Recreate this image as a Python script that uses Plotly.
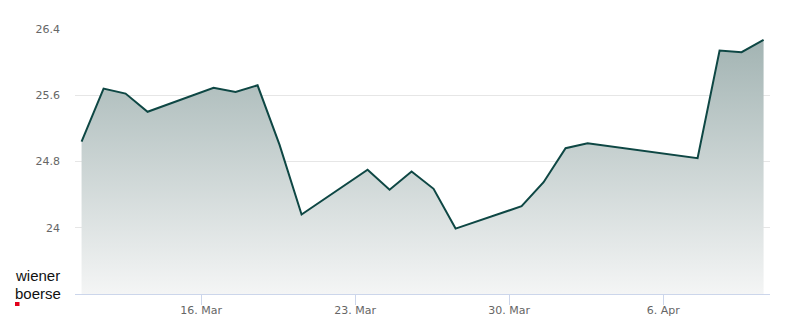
import plotly.graph_objects as go

dates = ["2026-03-10", "2026-03-11", "2026-03-12", "2026-03-13",
         "2026-03-16", "2026-03-17", "2026-03-18", "2026-03-19", "2026-03-20",
         "2026-03-23", "2026-03-24", "2026-03-25", "2026-03-26", "2026-03-27",
         "2026-03-30", "2026-03-31", "2026-04-01", "2026-04-02",
         "2026-04-07", "2026-04-08", "2026-04-09", "2026-04-10"]
prices = [25.04, 25.68, 25.62, 25.40,
          25.69, 25.64, 25.72, 25.00, 24.16,
          24.70, 24.46, 24.68, 24.47, 23.99,
          24.26, 24.55, 24.96, 25.02,
          24.84, 26.14, 26.12, 26.27]
x_tick_vals = ["2026-03-16", "2026-03-23", "2026-03-30", "2026-04-06"]
x_tick_text = ["16. Mar", "23. Mar", "30. Mar", "6. Apr"]
y_tick_vals = [24, 24.8, 25.6, 26.4]
y_tick_text = ["24", "24.8", "25.6", "26.4"]

x_times = [d + " 13:30" for d in dates]

# plot area in pixels
PL, PR, PT, PB = 75, 770, 29, 294
PW, PH = PR - PL, PB - PT


def px(xp):
    return (xp - PL) / PW


def py(yp):
    return (PB - yp) / PH


fig = go.Figure()
fig.add_trace(go.Scatter(
    x=x_times, y=prices, mode="lines",
    line=dict(color="#0e4744", width=2),
    fill="tozeroy",
    fillgradient=dict(type="vertical", start=23.2, stop=26.4,
                      colorscale=[[0, "#f4f5f5"], [1, "#9fb1b0"]]),
    hoverinfo="skip",
))

fig.update_layout(
    width=800, height=324,
    margin=dict(l=PL, r=800 - PR, t=PT, b=324 - PB, autoexpand=False),
    paper_bgcolor="white", plot_bgcolor="white",
    showlegend=False,
    font=dict(family="DejaVu Sans", size=11, color="#666666"),
    xaxis=dict(
        type="date", automargin=False,
        range=["2026-03-10 06:20", "2026-04-10 20:30"],
        tickvals=x_tick_vals, ticktext=x_tick_text,
        showgrid=False, zeroline=False,
        showline=True, linecolor="#ccd6eb", linewidth=1,
        ticks="outside", ticklen=10, tickcolor="#ccd6eb", tickwidth=1,
        ticklabelstandoff=-4,
        tickfont=dict(size=11, color="#666666"),
    ),
    yaxis=dict(
        automargin=False,
        range=[23.2, 26.4],
        tickvals=y_tick_vals, ticktext=y_tick_text,
        showgrid=True, gridcolor="#e6e6e6", gridwidth=1,
        zeroline=False, showline=False,
        ticks="", ticklabelstandoff=14,
        tickfont=dict(size=11, color="#666666"),
    ),
)

for word, yc in (("wiener", 275), ("boerse", 293)):
    fig.add_annotation(text=word, xref="paper", yref="paper",
                       x=px(13), y=py(yc),
                       xanchor="left", yanchor="middle", align="left",
                       showarrow=False,
                       font=dict(family="Liberation Sans", size=15, color="#111111"))

fig.add_shape(type="rect", xref="paper", yref="paper",
              x0=px(15), x1=px(19.5), y0=py(306), y1=py(302),
              fillcolor="#e2001a", line=dict(width=0))

fig.write_html("out.html")
